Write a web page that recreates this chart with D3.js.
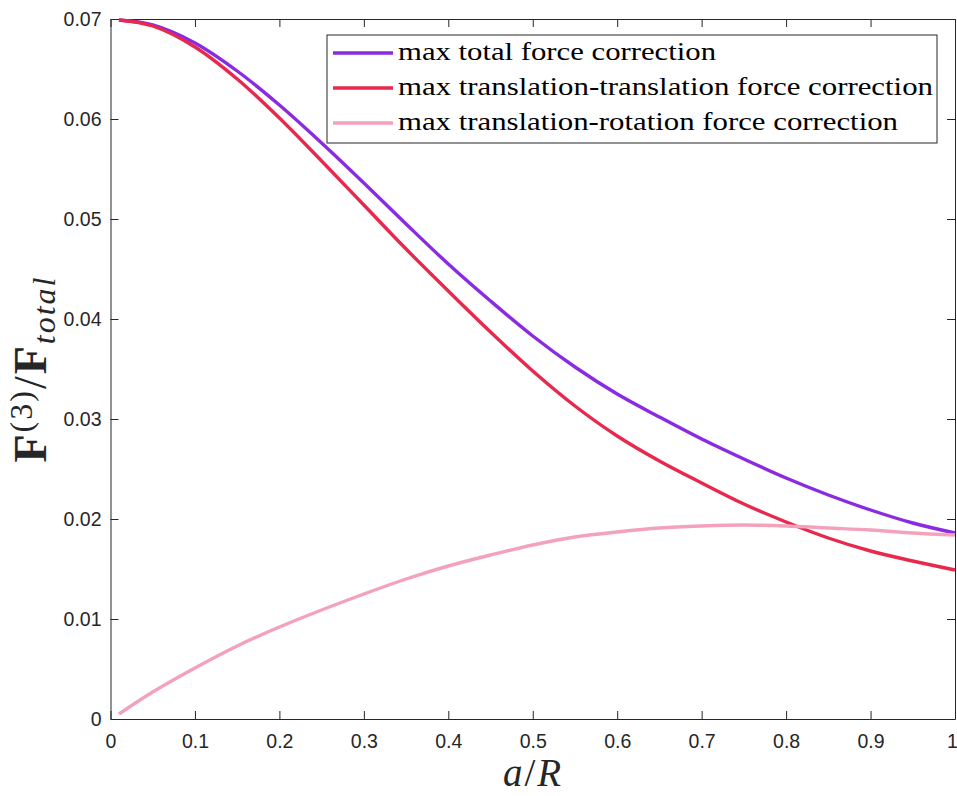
<!DOCTYPE html>
<html>
<head>
  <meta charset="utf-8">
  <style>
  body { margin: 0; background: #fff; }
  .line { fill: none; stroke-width: 3.4px; stroke-linejoin: round; }
  </style>
  <script src="https://d3js.org/d3.v7.min.js"></script>
</head>
<body>
<svg id="chart"></svg>
<script>

// a/R sample points
var xs = [0.01, 0.05, 0.1, 0.15, 0.2, 0.25, 0.3, 0.35, 0.4, 0.45, 0.5,
          0.55, 0.6, 0.65, 0.7, 0.75, 0.8, 0.85, 0.9, 0.95, 1.0];

var totalForce = [0.0699, 0.0694, 0.0676, 0.0648, 0.0614, 0.0576, 0.0536, 0.0495, 0.0455, 0.0418, 0.0383,
                  0.0352, 0.0325, 0.0302, 0.0280, 0.0260, 0.0241, 0.0224, 0.0209, 0.0196, 0.0186];

var transTrans = [0.0699, 0.0693, 0.0672, 0.0640, 0.0601, 0.0558, 0.0514, 0.0470, 0.0428, 0.0387, 0.0348,
                  0.0313, 0.0283, 0.0258, 0.0236, 0.0215, 0.0197, 0.0181, 0.0168, 0.0158, 0.0149];

var transRot = [0.0005, 0.0027, 0.0051, 0.0073, 0.0092, 0.0109, 0.0125, 0.0140, 0.0153, 0.0164, 0.0174,
                0.0182, 0.0187, 0.0191, 0.0193, 0.0194, 0.0193, 0.0191, 0.0189, 0.0186, 0.0184];

var seriesNames = ["max total force correction",
                   "max translation-translation force correction",
                   "max translation-rotation force correction"];
var seriesColors = ["#8a2be2", "#e8284d", "#f4a2bc"];

var xTicks = [0, 0.1, 0.2, 0.3, 0.4, 0.5, 0.6, 0.7, 0.8, 0.9, 1];
var yTicks = [0, 0.01, 0.02, 0.03, 0.04, 0.05, 0.06, 0.07];

var W = 957, H = 796;
var margin = {top: 19, right: 2, bottom: 77, left: 110.5};
var width = W - margin.left - margin.right,
    height = H - margin.top - margin.bottom;

var svg = d3.select("#chart").attr("width", W).attr("height", H);
var g = svg.append("g").attr("transform", "translate(" + margin.left + "," + margin.top + ")");

var x = d3.scaleLinear().domain([0, 1]).range([0, width]);
var y = d3.scaleLinear().domain([0, 0.07]).range([height, 0]);

var axisColor = "#262626";
var fmt = function(d) { return d3.format("~g")(d); };

// axes (ticks pointing inward, box all round)
var xAxis = g.append("g").attr("transform", "translate(0," + height + ")")
  .call(d3.axisBottom(x).tickValues(xTicks).tickSizeInner(-8).tickSizeOuter(0).tickPadding(15).tickFormat(fmt));
var xTop = g.append("g")
  .call(d3.axisTop(x).tickValues(xTicks).tickSizeInner(-8).tickSizeOuter(0).tickFormat(""));
var yAxis = g.append("g")
  .call(d3.axisLeft(y).tickValues(yTicks).tickSizeInner(-8).tickSizeOuter(0).tickPadding(9).tickFormat(fmt));
var yRight = g.append("g").attr("transform", "translate(" + width + ",0)")
  .call(d3.axisRight(y).tickValues(yTicks).tickSizeInner(-8).tickSizeOuter(0).tickFormat(""));

[xAxis, xTop, yAxis, yRight].forEach(function(a) {
  a.selectAll("path").attr("stroke", axisColor).attr("stroke-width", 1);
  a.selectAll("line").attr("stroke", axisColor).attr("stroke-width", 1);
  a.selectAll("text")
    .style("font-family", "'Liberation Sans', Arial, sans-serif")
    .style("font-size", "19.5px")
    .attr("fill", axisColor);
});
xAxis.selectAll("text")
  .attr("dx", function(d) { return d === 1 ? -3 : 0; });

// series lines
var allSeries = [totalForce, transTrans, transRot];
var line = d3.line()
  .x(function(d) { return x(d[0]); })
  .y(function(d) { return y(d[1]); })
  .curve(d3.curveCatmullRom);

allSeries.forEach(function(vals, i) {
  g.append("path")
    .datum(xs.map(function(v, k) { return [v, vals[k]]; }))
    .attr("class", "line")
    .attr("stroke", seriesColors[i])
    .attr("d", line);
});

// legend
var lg = svg.append("g").attr("transform", "translate(327,35)");
lg.append("rect").attr("width", 610).attr("height", 108)
  .attr("fill", "#fff").attr("stroke", axisColor).attr("stroke-width", 1);
var lens = [318, 535, 500];
seriesNames.forEach(function(name, i) {
  var yy = 18 + i * 35;
  lg.append("line").attr("x1", 6).attr("x2", 66).attr("y1", yy).attr("y2", yy)
    .attr("stroke", seriesColors[i]).attr("stroke-width", 3.4);
  lg.append("text").attr("x", 71).attr("y", yy + 7)
    .attr("font-family", "'Liberation Serif', 'DejaVu Serif', serif")
    .attr("font-size", 25).attr("fill", "#000")
    .attr("textLength", lens[i]).attr("lengthAdjust", "spacingAndGlyphs")
    .text(name);
});

// x label a/R
var xl = svg.append("text")
  .attr("x", 533).attr("y", 786)
  .attr("text-anchor", "middle")
  .attr("font-family", "'Liberation Serif', 'DejaVu Serif', serif")
  .attr("font-size", 39).attr("fill", "#262626")
  .attr("letter-spacing", 2);
xl.append("tspan").attr("font-style", "italic").text("a");
xl.append("tspan").text("/");
xl.append("tspan").attr("font-style", "italic").text("R");

// y label F^(3)/F_total
var yl = svg.append("text")
  .attr("transform", "translate(46,369) rotate(-90)")
  .attr("text-anchor", "middle")
  .attr("font-family", "'Liberation Serif', 'DejaVu Serif', serif")
  .attr("font-size", 46).attr("fill", "#262626")
  .attr("letter-spacing", 2);
yl.append("tspan").attr("font-weight", "bold").text("F");
yl.append("tspan").attr("font-size", 32).attr("dy", -14).text("(3)");
yl.append("tspan").attr("dy", 14).text("/");
yl.append("tspan").attr("font-weight", "bold").text("F");
yl.append("tspan").attr("font-size", 32).attr("font-style", "italic").attr("dy", 9).text("total");

</script>
</body>
</html>
